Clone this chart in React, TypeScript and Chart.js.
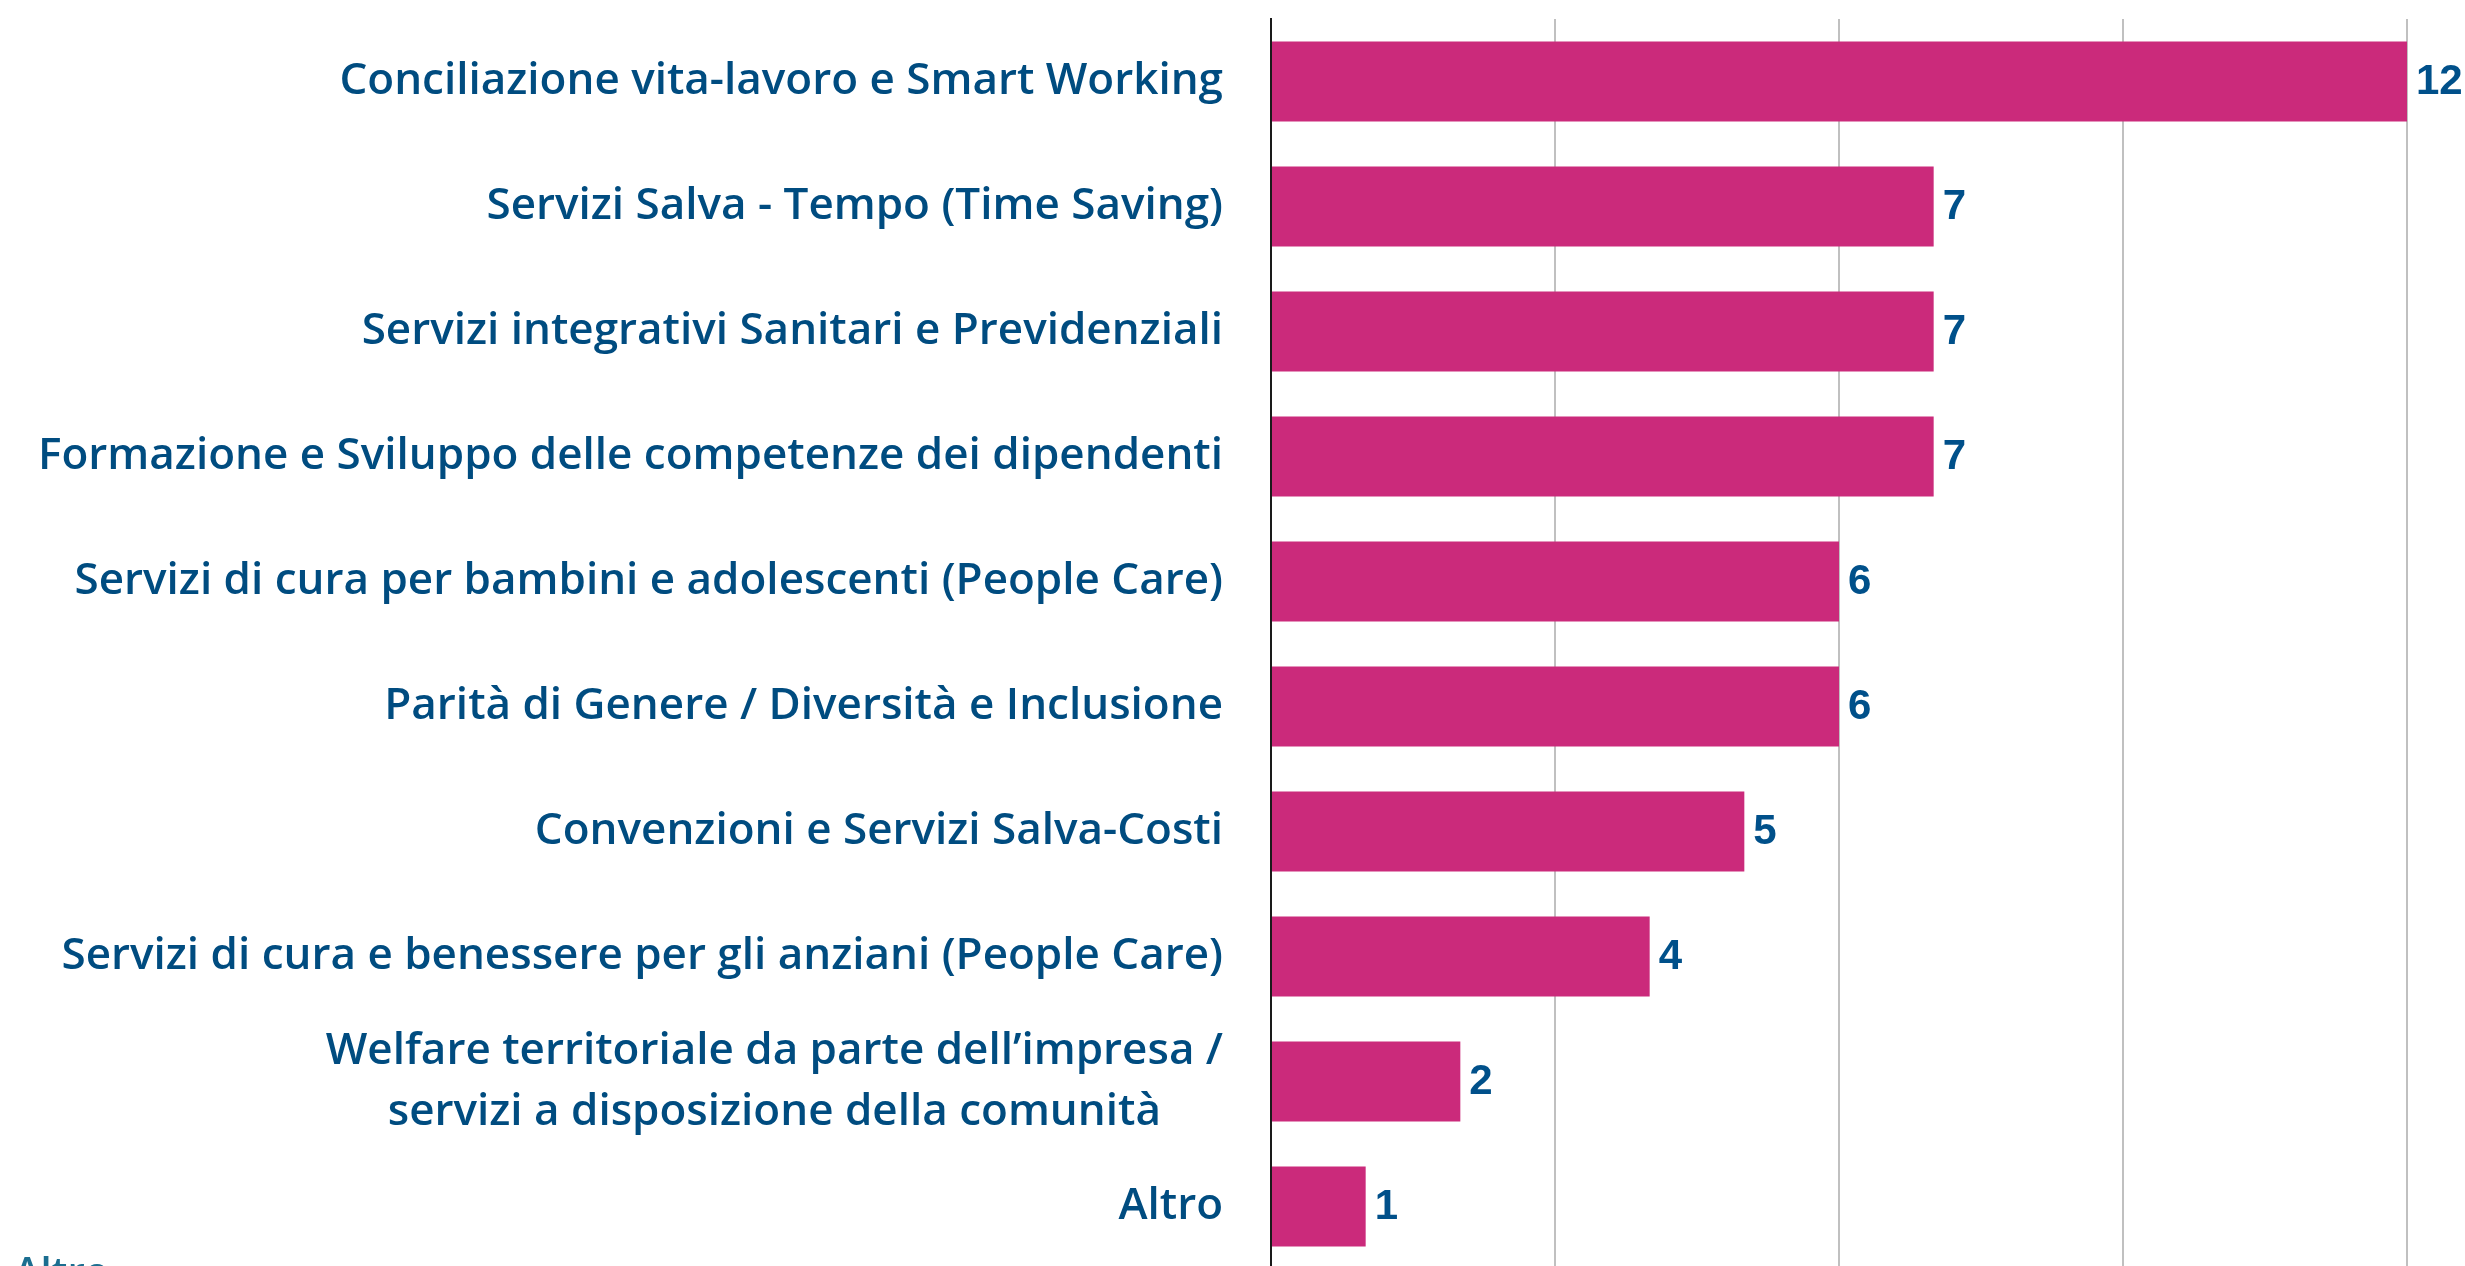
import React, { useEffect, useRef } from "react";
import { Chart, registerables } from "chart.js";

Chart.register(...registerables);

const categories: (string | string[])[] = [
  "Conciliazione vita-lavoro e Smart Working",
  "Servizi Salva - Tempo (Time Saving)",
  "Servizi integrativi Sanitari e Previdenziali",
  "Formazione e Sviluppo delle competenze dei dipendenti",
  "Servizi di cura per bambini e adolescenti (People Care)",
  "Parità di Genere / Diversità e Inclusione",
  "Convenzioni e Servizi Salva-Costi",
  "Servizi di cura e benessere per gli anziani (People Care)",
  ["Welfare territoriale da parte dell’impresa /", "servizi a disposizione della comunità"],
  "Altro",
];
const values = [12, 7, 7, 7, 6, 6, 5, 4, 2, 1];
const xMax = 12;
const xStep = 3;
const footerText = "Altro";

const BAR_COLOR = "#cb2a7b";
const LABEL_COLOR = "#004c80";
const VALUE_COLOR = "#00508a";
const FOOTER_COLOR = "#1b6e90";

const labelPlugin = {
  id: "customLabels",
  afterDatasetsDraw(chart: any) {
    const ctx = chart.ctx as CanvasRenderingContext2D;
    const yScale = chart.scales.y;
    const area = chart.chartArea;
    ctx.save();
    // category labels
    ctx.font = "600 44px 'Open Sans'";
    ctx.fillStyle = LABEL_COLOR;
    ctx.textAlign = "center";
    ctx.textBaseline = "middle";
    const rightEdge = area.left - 48;
    const lineH = 61;
    categories.forEach((c, i) => {
      const lines = Array.isArray(c) ? c : [c];
      const w = Math.max(...lines.map((l) => ctx.measureText(l).width));
      const cx = rightEdge - w / 2;
      const cy = yScale.getPixelForValue(i);
      lines.forEach((l, j) => {
        ctx.fillText(l, cx, cy + (j - (lines.length - 1) / 2) * lineH);
      });
    });
    // value labels
    ctx.font = "bold 42px 'Liberation Sans', Arial, sans-serif";
    ctx.fillStyle = VALUE_COLOR;
    ctx.textAlign = "left";
    const meta = chart.getDatasetMeta(0);
    meta.data.forEach((bar: any, i: number) => {
      ctx.fillText(String(values[i]), bar.x + 9, bar.y + 1);
    });
    // footer text (cut off at the bottom)
    ctx.font = "600 40px 'Open Sans'";
    ctx.fillStyle = FOOTER_COLOR;
    ctx.textBaseline = "alphabetic";
    ctx.fillText(footerText, 14, 1286);
    ctx.restore();
  },
};

export default function App() {
  const ref = useRef<HTMLCanvasElement | null>(null);
  useEffect(() => {
    if (!ref.current) return;
    const chart = new Chart(ref.current, {
      type: "bar",
      data: {
        labels: categories.map((c) => (Array.isArray(c) ? c.join(" ") : c)),
        datasets: [
          {
            data: values,
            backgroundColor: BAR_COLOR,
            borderWidth: 0,
            barPercentage: 0.64,
            categoryPercentage: 1,
          },
        ],
      },
      options: {
        indexAxis: "y",
        responsive: false,
        animation: false,
        layout: { padding: { top: 19, right: 58, bottom: 31, left: 0 } },
        plugins: {
          legend: { display: false },
          tooltip: { enabled: false },
          title: { display: false },
        },
        scales: {
          x: {
            min: 0,
            max: xMax,
            ticks: { display: false, stepSize: xStep },
            grid: { color: "#c0c0c0", lineWidth: 2, drawTicks: false },
            border: { display: false },
          },
          y: {
            ticks: { display: false },
            grid: { display: false, drawTicks: false },
            border: { display: true, color: "#1a1a1a", width: 2 },
            afterFit: (scale: any) => {
              scale.width = 1271;
            },
          },
        },
      },
      plugins: [labelPlugin],
    });
    return () => chart.destroy();
  }, []);
  return (
    <div
      style={{
        position: "fixed",
        top: 0,
        left: 0,
        width: 2465,
        height: 1266,
        overflow: "hidden",
        background: "#ffffff",
      }}
    >
      <canvas ref={ref} width={2465} height={1300} style={{ display: "block" }} />
    </div>
  );
}
